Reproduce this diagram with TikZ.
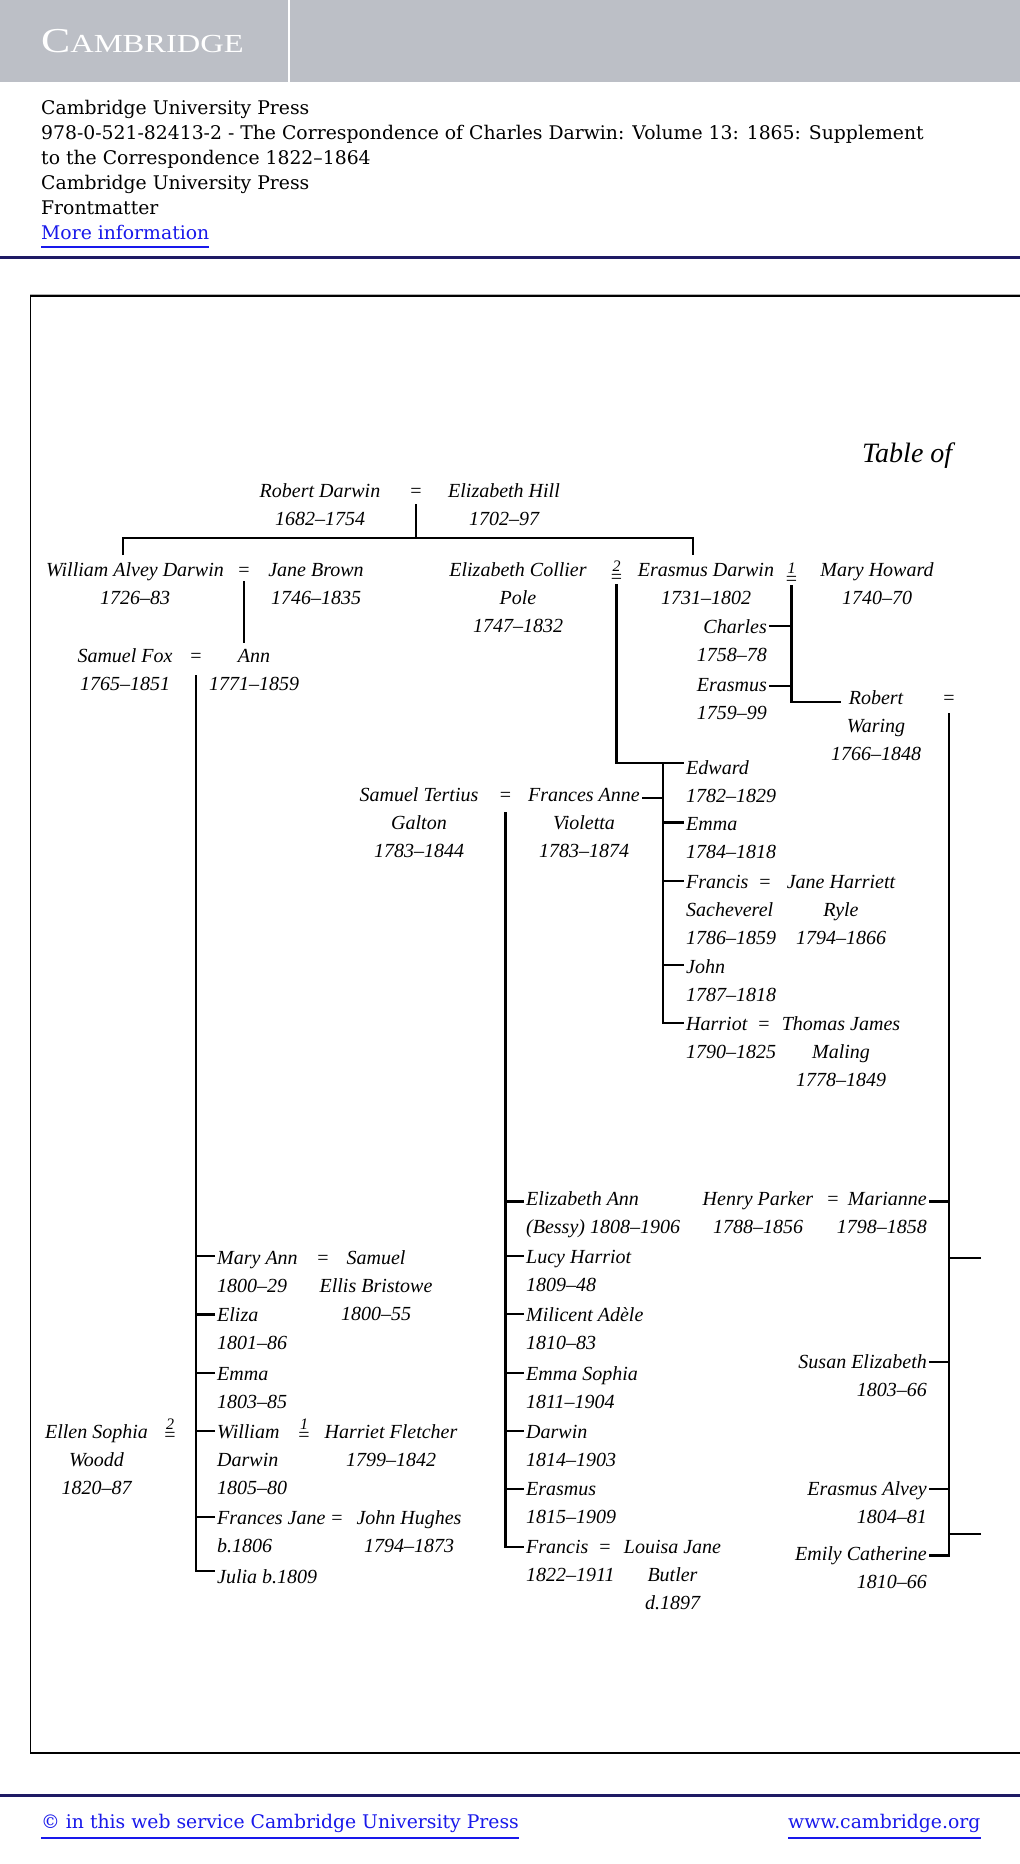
\documentclass[tikz,border=0pt]{standalone}
\usepackage{fontspec}
\usetikzlibrary{calc}
\newfontfamily\hdr{DejaVu Serif}
\newfontfamily\logofont{Liberation Serif}
\newfontfamily\treefont{Liberation Serif}
\definecolor{bandgray}{RGB}{188,191,198}
\definecolor{navy}{RGB}{30,26,100}
\definecolor{linkblue}{RGB}{25,25,235}
\newcommand\famL[1]{\vtop{\baselineskip=28.4pt\lineskiplimit=-100pt\halign{##\hfil\cr#1\crcr}}}
\newcommand\famR[1]{\vtop{\baselineskip=28.4pt\lineskiplimit=-100pt\halign{\hfil##\cr#1\crcr}}}
\newcommand\famC[1]{\vtop{\baselineskip=28.4pt\lineskiplimit=-100pt\halign{\hfil##\hfil\cr#1\crcr}}}
\newcommand\numeq[1]{\vbox{\offinterlineskip\halign{\hfil##\hfil\cr{\itshape\fontsize{16}{16}\selectfont #1}\cr\noalign{\kern2pt}=\cr}}}
\newcommand\mytick[3]{\draw[ln] ($(#1.base west)+(0,-#3)$) coordinate (tk) -- (tk -| #2);}
\newcommand\mytickR[3]{\draw[ln] ($(#1.base east)+(0,-#3)$) coordinate (tk) -- (tk -| #2);}
\tikzset{
  tree/.style={font=\treefont\fontsize{20}{28.4}\selectfont\itshape, inner xsep=2pt, inner ysep=0pt},
  pl/.style={tree, anchor=base west},
  pr/.style={tree, anchor=base east},
  pc/.style={tree, anchor=base},
  eqn/.style={font=\treefont\fontsize{20}{28.4}\selectfont, inner sep=0pt, anchor=base},
  ln/.style={line width=2.6pt},
  hdrtext/.style={font=\hdr\fontsize{18.8}{25}\selectfont, anchor=base west, inner sep=0pt},
}
\begin{document}
\begin{tikzpicture}[x=1pt,y=-1pt]
\useasboundingbox (0,0) rectangle (1020,1864);
\fill[white] (0,0) rectangle (1020,1864);
% ---------- header ----------
\fill[bandgray] (0,0) rectangle (1020,82);
\fill[white] (288,0) rectangle (290,82);
\node[anchor=base west, inner sep=0pt, text=white, font=\logofont] (logo) at (41,52)
  {\scalebox{1.25}[1]{\fontsize{35}{35}\selectfont C\fontsize{26}{26}\selectfont AMBRIDGE}};
\node[hdrtext] (h1) at (41,114) {Cambridge University Press};
\node[hdrtext] (h2) at (41,139) {978-0-521-82413-2 - The Correspondence of Charles Darwin: Volume 13: 1865: Supplement};
\node[hdrtext] (h3) at (41,164) {to the Correspondence 1822–1864};
\node[hdrtext] (h4) at (41,189) {Cambridge University Press};
\node[hdrtext] (h5) at (41,214) {Frontmatter};
\node[hdrtext, text=linkblue] (h6) at (41,239) {More information};
\draw[linkblue, line width=2pt] ($(h6.base west)+(0,8)$) -- ($(h6.base east)+(0,8)$);
\draw[navy, line width=3pt] (0,257) -- (1020,257);
% ---------- frame ----------
\draw[gray!60, line width=1pt] (30,294.5) -- (1020,294.5);
\draw[line width=1.2pt] (1021,296) -- (30.6,296) -- (30.6,1753) -- (1021,1753);
% ---------- footer ----------
\draw[navy, line width=3pt] (0,1795) -- (1020,1795);
\node[hdrtext, text=linkblue] (f1) at (41,1828) {© in this web service Cambridge University Press};
\node[hdrtext, text=linkblue] (f2) at (788,1828) {www.cambridge.org};
\draw[linkblue, line width=2pt] ($(f1.base west)+(0,10)$) -- ($(f1.base east)+(0,10)$);
\draw[linkblue, line width=2pt] ($(f2.base west)+(0,10)$) -- ($(f2.base east)+(0,10)$);
% ---------- title ----------
\node[font=\treefont\fontsize{28}{28}\selectfont\itshape, anchor=base west, inner sep=0pt] (title) at (862,462) {Table of};
% ---------- generation 1 ----------
\node[pc] (rd) at (320,497) {\famC{Robert Darwin\cr 1682–1754}};
\node[eqn] (eqRD) at (416,497) {=};
\node[pc] (eh) at (504,497) {\famC{Elizabeth Hill\cr 1702–97}};
% ---------- generation 2 ----------
\node[pc] (wad) at (135,576) {\famC{William Alvey Darwin\cr 1726–83}};
\node[eqn] (eqWJ) at (244,576) {=};
\node[pc] (jb) at (316,576) {\famC{Jane Brown\cr 1746–1835}};
\node[pc] (ecp) at (518,576) {\famC{Elizabeth Collier\cr Pole\cr 1747–1832}};
\node[eqn] (eqEP) at (616.5,583) {\numeq{2}};
\node[pc] (ed) at (706,576) {\famC{Erasmus Darwin\cr 1731–1802}};
\node[eqn] (eqEM) at (791.5,585) {\numeq{1}};
\node[pc] (mh) at (877,576) {\famC{Mary Howard\cr 1740–70}};
% Erasmus + Mary Howard children
\node[pr] (charles) at (769,633) {\famR{Charles\cr 1758–78}};
\node[pr] (erasmusC) at (769,691) {\famR{Erasmus\cr 1759–99}};
\node[pc] (rw) at (876,704) {\famC{Robert\cr Waring\cr 1766–1848}};
\node[eqn] (eqRW) at (949,704) {=};
% Fox
\node[pc] (sf) at (125,662) {\famC{Samuel Fox\cr 1765–1851}};
\node[eqn] (eqSF) at (196,662) {=};
\node[pc] (ann) at (254,662) {\famC{Ann\cr 1771–1859}};
% Galton
\node[pc] (stg) at (419,801) {\famC{Samuel Tertius\cr Galton\cr 1783–1844}};
\node[eqn] (eqG) at (505.5,801) {=};
\node[pc] (fav) at (584,801) {\famC{Frances Anne\cr Violetta\cr 1783–1874}};
% Erasmus + Pole children
\node[pl] (edward) at (684,774) {\famL{Edward\cr 1782–1829}};
\node[pl] (emmaP) at (684,830.5) {\famL{Emma\cr 1784–1818}};
\node[pl] (francisP) at (684,888) {\famL{Francis\cr Sacheverel\cr 1786–1859}};
\node[eqn] (eqFR) at (765,888) {=};
\node[pc] (jhr) at (841,888) {\famC{Jane Harriett\cr Ryle\cr 1794–1866}};
\node[pl] (john) at (684,973) {\famL{John\cr 1787–1818}};
\node[pl] (harriot) at (684,1030) {\famL{Harriot\cr 1790–1825}};
\node[eqn] (eqHT) at (764,1030) {=};
\node[pc] (tjm) at (841,1030) {\famC{Thomas James\cr Maling\cr 1778–1849}};
% Galton children
\node[pl] (eab) at (524,1205) {\famL{Elizabeth Ann\cr (Bessy) 1808–1906}};
\node[pl] (lucy) at (524,1263) {\famL{Lucy Harriot\cr 1809–48}};
\node[pl] (milicent) at (524,1321.5) {\famL{Milicent Adèle\cr 1810–83}};
\node[pl] (emmaS) at (524,1380) {\famL{Emma Sophia\cr 1811–1904}};
\node[pl] (darwinG) at (524,1438) {\famL{Darwin\cr 1814–1903}};
\node[pl] (erasmusG) at (524,1495) {\famL{Erasmus\cr 1815–1909}};
\node[pl] (francisG) at (524,1553) {\famL{Francis\cr 1822–1911}};
\node[eqn] (eqFL) at (605,1553) {=};
\node[pc] (ljb) at (672.5,1553) {\famC{Louisa Jane\cr Butler\cr d.1897}};
% Waring children
\node[pc] (hp) at (758,1205) {\famC{Henry Parker\cr 1788–1856}};
\node[eqn] (eqHP) at (833,1205) {=};
\node[pr] (marianne) at (929,1205) {\famR{Marianne\cr 1798–1858}};
\node[pr] (susan) at (929,1368) {\famR{Susan Elizabeth\cr 1803–66}};
\node[pr] (ealvey) at (929,1495) {\famR{Erasmus Alvey\cr 1804–81}};
\node[pr] (emily) at (929,1560) {\famR{Emily Catherine\cr 1810–66}};
% Fox children
\node[pl] (maryann) at (215,1264) {\famL{Mary Ann\cr 1800–29}};
\node[eqn] (eqMS) at (323,1264) {=};
\node[pc] (seb) at (376,1264) {\famC{Samuel\cr Ellis Bristowe\cr 1800–55}};
\node[pl] (eliza) at (215,1321.5) {\famL{Eliza\cr 1801–86}};
\node[pl] (emmaF) at (215,1380) {\famL{Emma\cr 1803–85}};
\node[pl] (william) at (215,1438) {\famL{William\cr Darwin\cr 1805–80}};
\node[eqn] (eq1W) at (304,1441) {\numeq{1}};
\node[pc] (hf) at (391,1438) {\famC{Harriet Fletcher\cr 1799–1842}};
\node[pc] (esw) at (96.5,1438) {\famC{Ellen Sophia\cr Woodd\cr 1820–87}};
\node[eqn] (eq2W) at (170,1441) {\numeq{2}};
\node[pl] (fj) at (215,1524) {\famL{Frances Jane\cr b.1806}};
\node[eqn] (eqFH) at (337,1524) {=};
\node[pc] (jh) at (409,1524) {\famC{John Hughes\cr 1794–1873}};
\node[pl] (julia) at (215,1583) {\famL{Julia b.1809}};
% ---------- connectors ----------
% Robert Darwin = Elizabeth Hill
\coordinate (rdJ) at ($(eqRD.base)+(0,41)$);
\draw[ln] ($(eqRD.base)+(0,7)$) -- (rdJ);
\draw[ln] ($(wad.base)+(-12,-21)$) |- (rdJ) -| ($(ed.base)+(-13,-21)$);
% William Alvey Darwin = Jane Brown
\draw[ln] ($(eqWJ.base)+(0,5)$) -- ($(eqWJ.base |- ann.north)+(0,-6)$);
% Samuel Fox = Ann
\coordinate (foxS) at ($(eqSF.base)+(0,13)$);
\draw[ln] (foxS) |- ($(julia.base west)+(0,-12)$);
\mytick{maryann}{foxS}{8}
\mytick{eliza}{foxS}{7}
\mytick{emmaF}{foxS}{7}
\mytick{william}{foxS}{7}
\mytick{fj}{foxS}{7}
% Erasmus Darwin = Elizabeth Collier Pole
\coordinate (edT) at ($(edward.base west)+(0,-11)$);
\draw[ln] ($(eqEP.base)+(0,1)$) |- (edT);
\coordinate (poleS) at ($(edT)+(-21,0)$);
\draw[ln] (poleS) |- ($(harriot.base west)+(0,-7)$);
\mytick{emmaP}{poleS}{8}
\mytick{francisP}{poleS}{7}
\mytick{john}{poleS}{8}
\mytickR{fav}{poleS}{3}
% Erasmus Darwin = Mary Howard
\coordinate (emS) at ($(eqEM.base)+(0,0)$);
\draw[ln] (emS) |- ($(rw.base)+(-35,-2)$);
\mytickR{charles}{emS}{7}
\mytickR{erasmusC}{emS}{5}
% Samuel Tertius Galton = Frances Anne Violetta
\coordinate (gS) at ($(eqG.base)+(0,11)$);
\draw[ln] (gS) |- ($(francisG.base west)+(0,-6)$);
\mytick{eab}{gS}{3.5}
\mytick{lucy}{gS}{7}
\mytick{milicent}{gS}{7.5}
\mytick{emmaS}{gS}{7}
\mytick{darwinG}{gS}{7}
\mytick{erasmusG}{gS}{6}
% Robert Waring = ...
\coordinate (wS) at ($(eqRW.base)+(0,9)$);
\draw[ln] (wS) |- ($(emily.base east)+(0,-4.5)$);
\mytickR{marianne}{wS}{3.5}
\mytickR{susan}{wS}{6}
\mytickR{ealvey}{wS}{6}
\coordinate (offA) at (981,1258);
\coordinate (offB) at (981,1534);
\draw[ln] (offA) -- (offA -| wS);
\draw[ln] (offB) -- (offB -| wS);
\end{tikzpicture}
\end{document}
